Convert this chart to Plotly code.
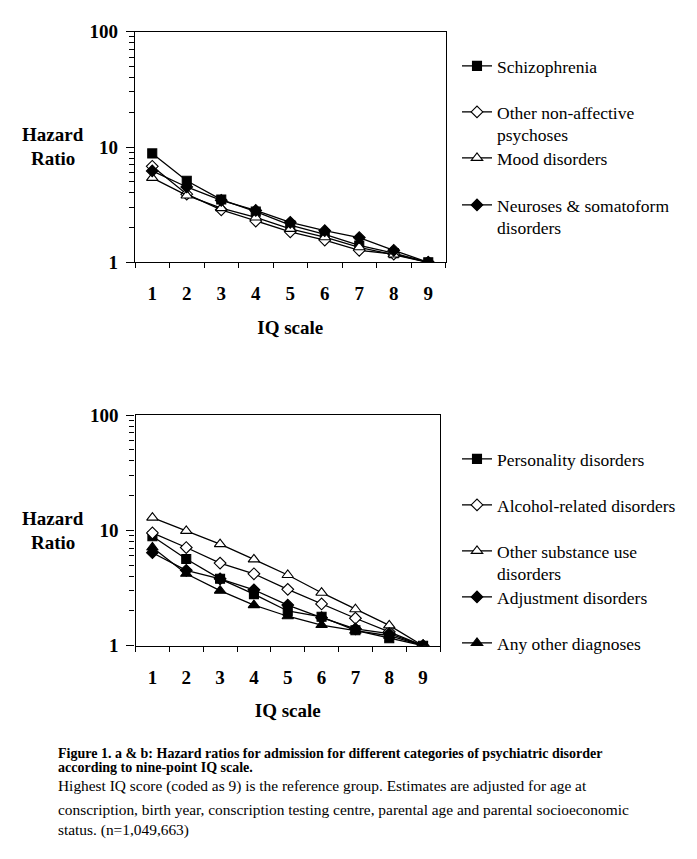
import plotly.graph_objects as go

W, H = 697, 859

# ---------------- data ----------------
iq = [1, 2, 3, 4, 5, 6, 7, 8, 9]
iq_labels = ["1", "2", "3", "4", "5", "6", "7", "8", "9"]

# Figure 1a
schizophrenia = [8.8, 5.1, 3.5, 2.75, 2.1, 1.75, 1.4, 1.2, 1.0]
other_nonaffective = [6.8, 3.9, 2.85, 2.28, 1.84, 1.56, 1.27, 1.18, 1.0]
mood_disorders = [5.4, 3.8, 2.95, 2.45, 1.95, 1.65, 1.35, 1.17, 1.0]
neuroses = [6.2, 4.5, 3.45, 2.82, 2.22, 1.88, 1.64, 1.27, 1.0]

# Figure 1b
personality = [8.9, 5.65, 3.8, 2.8, 2.0, 1.78, 1.36, 1.16, 1.0]
alcohol = [9.5, 7.1, 5.2, 4.2, 3.08, 2.3, 1.73, 1.32, 1.0]
other_substance = [12.9, 9.9, 7.6, 5.6, 4.1, 2.88, 2.07, 1.5, 1.0]
adjustment = [6.4, 4.5, 3.8, 3.05, 2.25, 1.75, 1.4, 1.27, 1.0]
any_other = [7.1, 4.2, 3.0, 2.25, 1.8, 1.51, 1.35, 1.22, 1.0]

y_ticks = [1, 10, 100]
y_ticklabels = ["1", "10", "100"]
y_minor = [2, 3, 4, 5, 6, 7, 8, 9, 20, 30, 40, 50, 60, 70, 80, 90]
x_boundaries = [0.5, 1.5, 2.5, 3.5, 4.5, 5.5, 6.5, 7.5, 8.5, 9.5]

top_series = [
    ("Schizophrenia", schizophrenia, "square", "black"),
    ("Other non-affective<br>psychoses", other_nonaffective, "diamond", "white"),
    ("Mood disorders", mood_disorders, "triangle-up", "white"),
    ("Neuroses & somatoform<br>disorders", neuroses, "diamond", "black"),
]
bottom_series = [
    ("Personality disorders", personality, "square", "black"),
    ("Alcohol-related disorders", alcohol, "diamond", "white"),
    ("Other substance use<br>disorders", other_substance, "triangle-up", "white"),
    ("Adjustment disorders", adjustment, "diamond", "black"),
    ("Any other diagnoses", any_other, "triangle-up", "black"),
]
# first-line centre of each legend entry (px from top)
top_legend_rows = [68, 114, 160, 207]
bottom_legend_rows = [461, 507, 553, 599, 645]

SERIF = "Liberation Serif, Times New Roman, serif"


def py(p):
    return 1 - p / H


def px(p):
    return p / W


fig = go.Figure()
legend_layout = {}
LEG_X = 457
LEG_OFF = 20
legend_font = dict(family=SERIF, size=17.5, color="black")

n = 0
for series, rows, xa, ya in [(top_series, top_legend_rows, "x", "y"),
                             (bottom_series, bottom_legend_rows, "x2", "y2")]:
    for (name, vals, sym, fill), row in zip(series, rows):
        n += 1
        lid = "legend" if n == 1 else "legend%d" % n
        fig.add_trace(go.Scatter(
            x=iq, y=vals, name=name, mode="lines+markers",
            xaxis=xa, yaxis=ya, legend=lid,
            line=dict(color="black", width=1.3),
            marker=dict(symbol=sym, size=9 if sym != "triangle-up" else 10, color=fill,
                        line=dict(color="black", width=1.1)),
        ))
        legend_layout[lid] = dict(
            x=px(LEG_X), y=py(row - LEG_OFF), xanchor="left", yanchor="top",
            font=legend_font, valign="top", bgcolor="rgba(0,0,0,0)",
            itemclick=False, itemdoubleclick=False,
        )

xaxis_common = dict(
    range=[0.5, 9.5], tickmode="array", tickvals=iq, ticktext=iq_labels,
    ticks="", showline=True, linecolor="black", linewidth=1.3, mirror=True,
    showgrid=False, zeroline=False, ticklabelstandoff=14, automargin=False,
    tickfont=dict(family=SERIF, size=19, color="black", weight="bold"),
    minor=dict(tickmode="array", tickvals=x_boundaries, ticks="outside",
               ticklen=5, tickwidth=1, tickcolor="black", showgrid=False),
    title=dict(text="IQ scale", standoff=17,
               font=dict(family=SERIF, size=19, color="black", weight="bold")),
)
yaxis_common = dict(
    type="log", range=[0, 2], tickmode="array", tickvals=y_ticks, ticktext=y_ticklabels,
    ticks="outside", ticklen=8, tickwidth=1, tickcolor="black",
    showline=True, linecolor="black", linewidth=1.3, mirror=True,
    showgrid=False, zeroline=False, ticklabelstandoff=4, automargin=False,
    tickfont=dict(family=SERIF, size=19, color="black", weight="bold"),
    minor=dict(tickmode="array", tickvals=y_minor, ticks="outside",
               ticklen=5, tickwidth=1, tickcolor="black", showgrid=False),
)

annotations = []
for yc1, yc2 in [(135, 159), (518, 542)]:
    for text, yc in [("Hazard", yc1), ("Ratio", yc2)]:
        annotations.append(dict(text=text, x=px(53), y=py(yc), xref="paper", yref="paper",
                                showarrow=False, xanchor="center", yanchor="middle",
                                font=dict(family=SERIF, size=19, color="black", weight="bold")))

caption = [
    ("Figure 1. a & b: Hazard ratios for admission for different categories of psychiatric disorder", 753, True),
    ("according to nine-point IQ scale.", 767, True),
    ("Highest IQ score (coded as 9) is the reference group. Estimates are adjusted for age at", 786, False),
    ("conscription, birth year, conscription testing centre, parental age and parental socioeconomic", 809, False),
    ("status. (n=1,049,663)", 830, False),
]
for text, yc, bold in caption:
    annotations.append(dict(
        text=text, x=px(56), y=py(yc), xref="paper", yref="paper", showarrow=False,
        xanchor="left", yanchor="middle",
        font=dict(family=SERIF, size=14 if bold else 15.4, color="black",
                  weight="bold" if bold else "normal")))

fig.update_layout(
    width=W, height=H, margin=dict(l=0, r=0, t=0, b=0, autoexpand=False),
    paper_bgcolor="white", plot_bgcolor="white",
    xaxis=dict(domain=[px(135), px(445.5)], anchor="y", **xaxis_common),
    yaxis=dict(domain=[py(262.3), py(31.7)], anchor="x", **yaxis_common),
    xaxis2=dict(domain=[px(135.5), px(440)], anchor="y2", **xaxis_common),
    yaxis2=dict(domain=[py(645.7), py(415)], anchor="x2", **yaxis_common),
    annotations=annotations,
    showlegend=True,
    **legend_layout,
)

fig.write_html("out.html", config={"displayModeBar": False},
               post_script="document.body.style.margin='0';")
